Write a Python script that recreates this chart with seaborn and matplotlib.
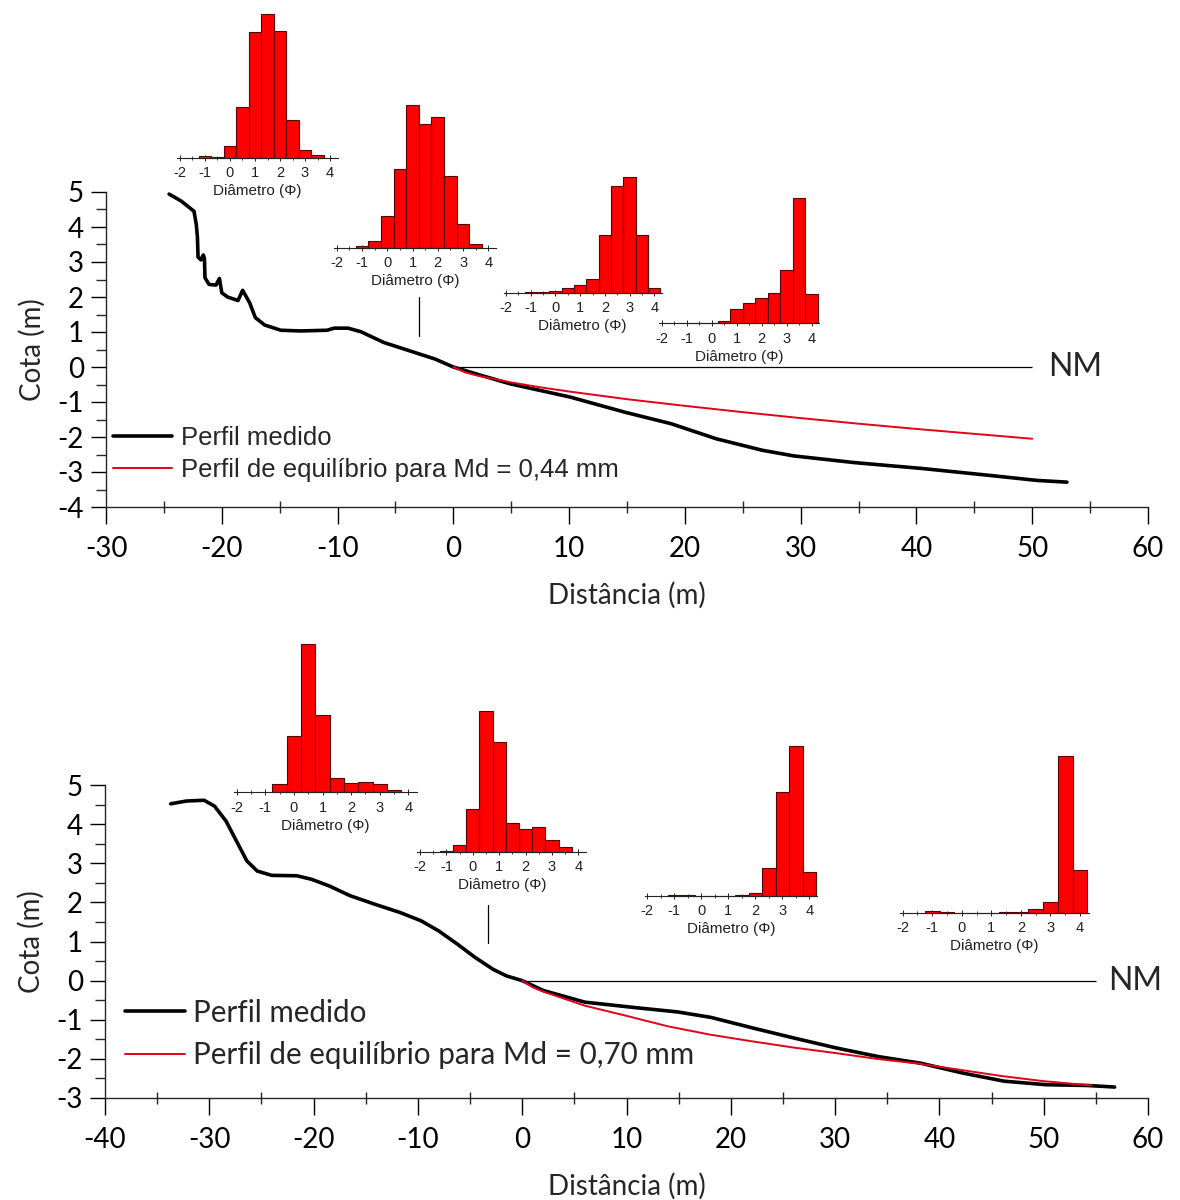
import numpy as np
import pandas as pd
import matplotlib
matplotlib.use("Agg")
import matplotlib.pyplot as plt
import seaborn as sns
from matplotlib.ticker import MultipleLocator

# ------------------------------------------------------------------ data
# Top profile (Md = 0,44 mm)
top_measured_x = [-24.55, -23.5, -22.4, -22.2, -22.1, -22.05, -21.8, -21.6, -21.5, -21.45,
                  -21.1, -20.5, -20.2, -20.0, -19.5, -18.6, -18.2, -17.6, -17.1, -16.3,
                  -14.9, -13.2, -10.9, -10.3, -9.1, -8.0, -6.0, -3.1, -1.6, 0.0,
                  2.0, 4.9, 10.1, 14.8, 18.8, 22.7, 26.7, 29.4, 34.6, 40.5, 46.4, 50.4, 53.0]
top_measured_y = [4.94, 4.74, 4.45, 4.07, 3.69, 3.14, 3.06, 3.20, 3.11, 2.55,
                  2.36, 2.34, 2.53, 2.12, 2.00, 1.90, 2.19, 1.84, 1.41, 1.20,
                  1.05, 1.03, 1.05, 1.11, 1.11, 1.01, 0.70, 0.39, 0.23, 0.00,
                  -0.20, -0.48, -0.86, -1.29, -1.62, -2.05, -2.38, -2.54, -2.73, -2.90, -3.10, -3.24, -3.29]
top_equil_x = [0, 1, 2, 3, 5, 7.5, 10, 15, 20, 25, 30, 35, 40, 45, 50]
top_equil_y = [0, -0.15, -0.24, -0.31, -0.44, -0.58, -0.70, -0.92, -1.11, -1.29, -1.46,
               -1.62, -1.77, -1.91, -2.05]
top_nm_extent = [0, 50]
top_marker_x = [-3, -3]
top_marker_y = [0.9, 2.0]

# Bottom profile (Md = 0,70 mm)
bot_measured_x = [-33.7, -32.2, -30.5, -29.5, -28.4, -27.4, -26.4, -25.4, -24.0, -21.6,
                  -20.2, -18.5, -16.5, -14.1, -11.7, -9.7, -8.0, -6.2, -4.5, -2.8,
                  -1.5, 0.0, 2.0, 6.0, 11.2, 14.9, 18.1, 22.1, 26.1, 30.1,
                  34.1, 38.2, 42.2, 46.2, 50.2, 54.2, 56.8]
bot_measured_y = [4.52, 4.59, 4.61, 4.46, 4.08, 3.57, 3.06, 2.80, 2.69, 2.68,
                  2.59, 2.42, 2.17, 1.95, 1.74, 1.53, 1.27, 0.93, 0.59, 0.29,
                  0.12, 0.0, -0.25, -0.55, -0.70, -0.80, -0.94, -1.21, -1.47, -1.72,
                  -1.94, -2.11, -2.36, -2.57, -2.66, -2.68, -2.72]
bot_equil_x = [0, 1, 2, 6, 10, 14, 18, 22, 26, 30, 34, 38, 42, 46, 50, 54.6]
bot_equil_y = [0, -0.17, -0.28, -0.64, -0.90, -1.17, -1.38, -1.55, -1.71, -1.85,
               -2.00, -2.12, -2.28, -2.44, -2.57, -2.68]
bot_nm_extent = [0, 55]
bot_marker_x = [-3.3, -3.3]
bot_marker_y = [0.96, 1.93]

legend_top = ["Perfil medido", "Perfil de equilíbrio para Md = 0,44 mm"]
legend_bot = ["Perfil medido", "Perfil de equilíbrio para Md = 0,70 mm"]

# Grain-size histograms (phi class centres, relative frequency %)
phi_a = [-1, -0.5, 0, 0.5, 1, 1.5, 2, 2.5, 3, 3.5]
phi_b = [-1, -0.5, 0, 0.5, 1, 1.5, 2, 2.5, 3, 3.5, 4]
phi_c = [-0.5, 0, 0.5, 1, 1.5, 2, 2.5, 3, 3.5]
hist1 = [0.3, 0.2, 2.4, 10.0, 24.6, 28.1, 24.8, 7.5, 1.6, 0.5]
hist2 = [0.2, 1.1, 5.1, 12.8, 23.3, 20.2, 21.3, 11.7, 3.8, 0.6]
hist3 = [0.1, 0.3, 0.4, 1.2, 2.0, 3.7, 15.5, 28.8, 31.3, 15.5, 1.4]
hist4 = [0.2, 0.2, 0.2, 0.6, 4.7, 6.6, 8.5, 10.0, 17.7, 41.5, 9.7]
hist5 = [2.5, 16.8, 44.3, 23.1, 4.4, 2.7, 3.2, 2.4, 0.6]
hist6 = [0.2, 1.7, 10.9, 35.8, 28.0, 7.2, 5.8, 6.4, 3.0, 1.1]
hist7 = [0.4, 0.3, 0.1, 0.1, 0.1, 0.2, 0.9, 9.1, 33.3, 47.9, 7.6]
hist8 = [0.9, 0.2, 0.0, 0.0, 0.0, 0.3, 0.3, 1.5, 5.1, 72.1, 19.6]
hist_phi = [phi_a, phi_a, phi_b, phi_b, phi_c, phi_a, phi_b, phi_b]
hist_freq = [hist1, hist2, hist3, hist4, hist5, hist6, hist7, hist8]
phi_ticks = [-2, -1, 0, 1, 2, 3, 4]
hist_xlabel = "Diâmetro (Φ)"

# ------------------------------------------------------------------ layout (pixels)
W, H = 1180, 1200
# inset placement: pixel of phi=-2, pixel of phi=4, baseline y, top y
inset_px = [
    (180.0, 330.0, 158.0, 14.0),
    (336.7, 488.3, 247.7, 105.0),
    (506.0, 654.3, 292.7, 176.7),
    (661.7, 811.7, 323.3, 198.3),
    (236.7, 408.3, 792.3, 644.3),
    (420.0, 578.3, 851.7, 711.0),
    (647.3, 809.3, 896.0, 746.0),
    (902.7, 1080.0, 912.7, 755.7),
]

sns.set_style("ticks")
plt.rcParams["font.family"] = ["Lato", "DejaVu Sans"]
plt.rcParams["axes.linewidth"] = 1.0
plt.rcParams["axes.unicode_minus"] = False

fig = plt.figure(figsize=(W / 100, H / 100), dpi=100)


def px_axes(left, top, right, bottom):
    return fig.add_axes([left / W, 1 - bottom / H, (right - left) / W, (bottom - top) / H])


def style_main(ax, xlim, ylim, xlabelpad):
    ax.set_xlim(*xlim)
    ax.set_ylim(*ylim)
    ax.patch.set_alpha(0)
    sns.despine(ax=ax)
    ax.xaxis.set_major_locator(MultipleLocator(10))
    ax.xaxis.set_minor_locator(MultipleLocator(5))
    ax.yaxis.set_major_locator(MultipleLocator(1))
    ax.yaxis.set_minor_locator(MultipleLocator(0.5))
    ax.tick_params(axis="x", which="major", direction="out", length=12, width=1, pad=9,
                   labelsize=20, colors="black")
    ax.tick_params(axis="x", which="minor", direction="inout", length=8, width=1)
    ax.tick_params(axis="y", which="major", direction="out", length=11, width=1, pad=5,
                   labelsize=20, colors="black")
    ax.tick_params(axis="y", which="minor", direction="out", length=7, width=1)
    ax.set_xlabel("Distância (m)", fontsize=20, labelpad=xlabelpad)
    ax.set_ylabel("Cota (m)", fontsize=20, labelpad=8)


def draw_profile(ax, mx, my, ex, ey, nm_ext, mkx, mky, labels, leg_font, leg_size,
                 leg_anchor, handlelength, textpad, spacing, nm_x):
    ax.hlines(0, nm_ext[0], nm_ext[1], color="black", linewidth=0.9)
    ax.plot(mkx, mky, color="black", linewidth=0.9)
    sns.lineplot(x=mx, y=my, ax=ax, color="black", linewidth=2.6, sort=False,
                 estimator=None, label=labels[0])
    sns.lineplot(x=ex, y=ey, ax=ax, color="#e3001b", linewidth=1.4, sort=False,
                 estimator=None, label=labels[1])
    ax.legend(loc="lower left", bbox_to_anchor=leg_anchor, frameon=False, borderpad=0,
              borderaxespad=0, handlelength=handlelength, handletextpad=textpad,
              labelspacing=spacing, prop={"family": leg_font, "size": leg_size})
    ax.text(nm_x, 0, "NM", fontsize=23, va="center", ha="left")


ax_top = px_axes(106, 192, 1148, 507)
style_main(ax_top, (-30, 60), (-4, 5), 14)
draw_profile(ax_top, top_measured_x, top_measured_y, top_equil_x, top_equil_y,
             top_nm_extent, top_marker_x, top_marker_y, legend_top,
             ["Liberation Sans", "DejaVu Sans"], 18.5, (0.0067, 0.078), 2.3, 0.35, 0.32, 51.4)

ax_bot = px_axes(105, 785, 1148, 1098)
style_main(ax_bot, (-40, 60), (-3, 5), 14)
draw_profile(ax_bot, bot_measured_x, bot_measured_y, bot_equil_x, bot_equil_y,
             bot_nm_extent, bot_marker_x, bot_marker_y, legend_bot,
             ["Lato", "DejaVu Sans"], 21.3, (0.019, 0.093), 2.03, 0.27, 0.48, 56.2)

# ------------------------------------------------------------------ insets
for (p_m2, p_4, yb, yt), centers, freqs in zip(inset_px, hist_phi, hist_freq):
    s = (p_4 - p_m2) / 6.0
    lo, hi = -2.1, 4.3
    iax = px_axes(p_m2 + (lo + 2) * s, yt, p_m2 + (hi + 2) * s, yb)
    df = pd.DataFrame({"phi": centers, "freq": freqs})
    sns.barplot(data=df, x="phi", y="freq", native_scale=True, width=1.0, ax=iax,
                color="#ff0000", saturation=1, edgecolor="#5a0000", linewidth=0.8,
                errorbar=None)
    iax.set_xlim(lo, hi)
    iax.set_ylim(0, max(freqs))
    iax.patch.set_alpha(0)
    for p in iax.patches:
        p.set_clip_on(False)
    for side in ("left", "top", "right"):
        iax.spines[side].set_visible(False)
    iax.spines["bottom"].set_linewidth(0.8)
    iax.spines["bottom"].set_color("#222222")
    iax.set_yticks([])
    iax.set_ylabel("")
    iax.set_xticks(phi_ticks)
    iax.set_xticklabels([str(t) for t in phi_ticks])
    iax.xaxis.set_minor_locator(MultipleLocator(0.5))
    iax.tick_params(axis="x", which="major", direction="inout", length=5, width=0.7,
                    pad=3.5, labelsize=10.5, colors="#222222")
    iax.tick_params(axis="x", which="minor", direction="inout", length=3, width=0.6,
                    colors="#222222")
    for lab in iax.get_xticklabels():
        lab.set_family(["Liberation Sans", "DejaVu Sans"])
    iax.set_xlabel(hist_xlabel, fontsize=11, labelpad=3, color="#222222",
                   family=["Liberation Sans", "DejaVu Sans"])

fig.savefig("out.png", dpi=100)
